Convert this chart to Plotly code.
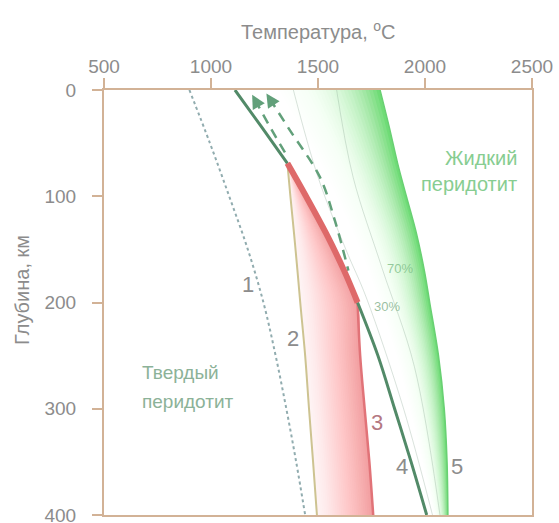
import plotly.graph_objects as go

# ---- data (temperature in °C, depth in km) ----
DEPTH = [0, 35, 69, 100, 135, 170, 200, 250, 300, 350, 400]
SOLIDUS_T = [1112, 1237, 1357, 1444, 1538, 1622, 1685, 1780, 1858, 1935, 2008]   # curve 4
LIQUIDUS_T = [1790, 1833, 1872, 1913, 1960, 1997, 2022, 2063, 2090, 2103, 2107]  # curve 5

GEOTHERM_DEPTH = [0, 50, 100, 150, 200, 250, 300, 350, 400]
GEOTHERM_T = [899, 995, 1085, 1172, 1245, 1302, 1352, 1398, 1440]                # curve 1

MELT_DEPTH = [69, 100, 135, 170, 200, 250, 300, 350, 400]
CURVE2_T = [1357, 1371, 1388, 1404, 1417, 1440, 1458, 1477, 1495]                # curve 2

CURVE3_DEPTH = [200, 250, 300, 350, 400]
CURVE3_T = [1685, 1697, 1718, 1740, 1758]                                        # curve 3

ADIABAT_A_DEPTH = [9, 38, 63]
ADIABAT_A_T = [1205, 1285, 1358]
ADIABAT_B_DEPTH = [8, 38, 82, 123, 170]
ADIABAT_B_T = [1274, 1369, 1509, 1579, 1642]

ISO30_DEPTH = [0, 82, 150, 195, 300, 400]
ISO30_T = [1385, 1500, 1630, 1725, 1900, 2035]
ISO70_DEPTH = [0, 82, 168, 260, 400]
ISO70_T = [1587, 1664, 1800, 1950, 2070]

X_TICKS = [500, 1000, 1500, 2000, 2500]
Y_TICKS = [0, 100, 200, 300, 400]

CURVE_LABELS = ["1", "2", "3", "4", "5"]
CURVE_LABEL_T = [1174, 1385, 1774, 1891, 2148]
CURVE_LABEL_DEPTH = [183, 234, 313, 354, 354]

FONT = "Liberation Sans, Arial, sans-serif"
AXIS_COLOR = "rgb(210,178,150)"
TEXT_GRAY = "#8c8c8c"
DASH_GREEN = "rgb(98,160,122)"

fig = go.Figure()


def band(left, right, depth, rgb, opacity_fn, n):
    """Shade between two curves: stacked layers, each from a fraction f of the
    way across the gap to the right curve, so opacity grows to the right."""
    prev = 0.0
    for i in range(n):
        f = i / n
        target = opacity_fn((i + 0.5) / n)
        alpha = 1 - (1 - target) / (1 - prev)
        prev = target
        xs = [a + f * (b - a) for a, b in zip(left, right)]
        fig.add_trace(go.Scatter(x=right, y=depth, mode="lines",
                                 line=dict(width=0, shape="spline"),
                                 hoverinfo="skip", showlegend=False))
        fig.add_trace(go.Scatter(
            x=xs, y=depth, mode="lines", fill="tonextx",
            fillcolor=f"rgba({rgb},{alpha:.4f})",
            line=dict(width=0, shape="spline"),
            hoverinfo="skip", showlegend=False))


# partially molten field between solidus and liquidus
band(SOLIDUS_T, LIQUIDUS_T, DEPTH, "85,215,95", lambda f: 0.88 * f ** 4.2, 40)

# melt region between curve 2 and curves 4/3
right_edge = SOLIDUS_T[2:7] + CURVE3_T[1:]
band(CURVE2_T, right_edge, MELT_DEPTH, "240,115,120", lambda f: 0.08 + 0.58 * f ** 1.3, 30)

# isopleths of melt fraction
for t, d in ((ISO30_T, ISO30_DEPTH), (ISO70_T, ISO70_DEPTH)):
    fig.add_trace(go.Scatter(x=t, y=d, mode="lines",
                             line=dict(color="rgba(130,160,140,0.3)", width=1, shape="spline"),
                             hoverinfo="skip", showlegend=False))

# liquidus edge
fig.add_trace(go.Scatter(x=LIQUIDUS_T, y=DEPTH, mode="lines",
                         line=dict(color="rgb(105,208,115)", width=1.5, shape="spline"),
                         hoverinfo="skip", showlegend=False))

# curve 1: geotherm (dotted)
fig.add_trace(go.Scatter(x=GEOTHERM_T, y=GEOTHERM_DEPTH, mode="lines",
                         line=dict(color="rgb(145,172,175)", width=2, dash="dot", shape="spline"),
                         hoverinfo="skip", showlegend=False))

# curve 2
fig.add_trace(go.Scatter(x=CURVE2_T, y=MELT_DEPTH, mode="lines",
                         line=dict(color="rgb(205,195,145)", width=2, shape="spline"),
                         hoverinfo="skip", showlegend=False))

# curve 3
fig.add_trace(go.Scatter(x=CURVE3_T, y=CURVE3_DEPTH, mode="lines",
                         line=dict(color="rgb(225,115,120)", width=2.5, shape="spline"),
                         hoverinfo="skip", showlegend=False))

# curve 4: solidus, upper and lower parts
for sl in (slice(0, 3), slice(6, None)):
    fig.add_trace(go.Scatter(x=SOLIDUS_T[sl], y=DEPTH[sl], mode="lines",
                             line=dict(color="rgb(82,138,104)", width=3, shape="spline"),
                             hoverinfo="skip", showlegend=False))

# adiabatic ascent paths
for t, d in ((ADIABAT_A_T, ADIABAT_A_DEPTH), (ADIABAT_B_T, ADIABAT_B_DEPTH)):
    fig.add_trace(go.Scatter(x=t, y=d, mode="lines",
                             line=dict(color=DASH_GREEN, width=2.5, dash="10px,7px",
                                       shape="spline"),
                             hoverinfo="skip", showlegend=False))

# melting segment of solidus (thick red)
fig.add_trace(go.Scatter(x=SOLIDUS_T[2:7], y=DEPTH[2:7], mode="lines",
                         line=dict(color="rgb(222,105,105)", width=6, shape="spline"),
                         hoverinfo="skip", showlegend=False))

annotations = []

# arrowheads on the ascent paths
for t, d in ((ADIABAT_A_T, ADIABAT_A_DEPTH), (ADIABAT_B_T, ADIABAT_B_DEPTH)):
    annotations.append(dict(
        x=t[0] - (t[1] - t[0]) * 0.16, y=d[0] - (d[1] - d[0]) * 0.16,
        ax=t[0], ay=d[0], xref="x", yref="y", axref="x", ayref="y",
        text="", showarrow=True, arrowhead=2, arrowsize=1.1, arrowwidth=2.5,
        arrowcolor=DASH_GREEN))

# curve numbers
for lab, t, d in zip(CURVE_LABELS, CURVE_LABEL_T, CURVE_LABEL_DEPTH):
    col = "rgb(180,120,130)" if lab == "3" else TEXT_GRAY
    annotations.append(dict(x=t, y=d, xref="x", yref="y", text=lab, showarrow=False,
                            font=dict(family=FONT, size=22, color=col)))

# melt fraction labels
annotations.append(dict(x=1883, y=168, xref="x", yref="y", text="70%", showarrow=False,
                        font=dict(family=FONT, size=13, color="rgba(120,185,130,0.75)")))
annotations.append(dict(x=1821, y=204, xref="x", yref="y", text="30%", showarrow=False,
                        font=dict(family=FONT, size=13, color="rgba(120,170,130,0.75)")))

# field labels
LIQUID_COLOR = "rgb(135,205,145)"
SOLID_COLOR = "rgb(140,178,152)"
for txt, d in (("Жидкий", 64), ("перидотит", 88)):
    annotations.append(dict(x=2440, y=d, xref="x", yref="y", xanchor="right", yanchor="middle",
                            text=txt, showarrow=False,
                            font=dict(family=FONT, size=20, color=LIQUID_COLOR)))
for txt, d in (("Твердый", 266), ("перидотит", 293)):
    annotations.append(dict(x=668, y=d, xref="x", yref="y", xanchor="left", yanchor="middle",
                            text=txt, showarrow=False,
                            font=dict(family=FONT, size=19, color=SOLID_COLOR)))

# axis titles
annotations.append(dict(x=0.5, y=1 + (90 - 31) / 425, xref="paper", yref="paper",
                        xanchor="center", yanchor="middle",
                        text="Температура, <sup>o</sup>C", showarrow=False,
                        font=dict(family=FONT, size=20, color=TEXT_GRAY)))
annotations.append(dict(x=(22 - 104) / 428, y=(515 - 290) / 425, xref="paper", yref="paper",
                        xanchor="center", yanchor="middle",
                        text="Глубина, км", textangle=-90, showarrow=False,
                        font=dict(family=FONT, size=20, color=TEXT_GRAY)))

axis_common = dict(showgrid=False, zeroline=False, showline=True, linecolor=AXIS_COLOR,
                   linewidth=2, mirror=True, ticks="outside", ticklen=10, tickwidth=2,
                   tickcolor=AXIS_COLOR, ticklabeloverflow="allow", automargin=False,
                   tickfont=dict(family=FONT, size=19, color=TEXT_GRAY))

fig.update_layout(
    width=559, height=523,
    margin=dict(l=104, r=27, t=90, b=8),
    paper_bgcolor="white", plot_bgcolor="white",
    xaxis=dict(range=[500, 2500], side="top", tickvals=X_TICKS, ticklabelstandoff=-3,
               **axis_common),
    yaxis=dict(range=[400, 0], tickvals=Y_TICKS, ticklabelstandoff=12, **axis_common),
    annotations=annotations,
    showlegend=False,
)

fig.write_html("out.html")
